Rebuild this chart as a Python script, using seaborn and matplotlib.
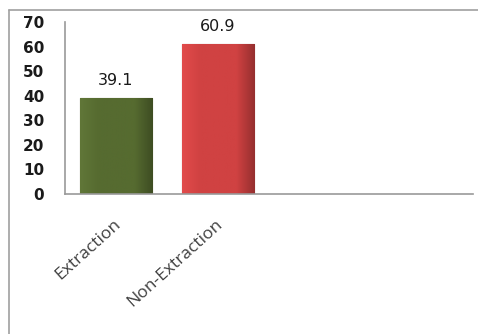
import numpy as np
import pandas as pd
import matplotlib
matplotlib.use("Agg")
import matplotlib.pyplot as plt
import seaborn as sns
from matplotlib.colors import LinearSegmentedColormap
from matplotlib.transforms import ScaledTranslation

categories = ["Extraction", "Non-Extraction"]
values = [39.1, 60.9]
bar_colors = ["#566B30", "#D04242"]
y_ticks = [0, 10, 20, 30, 40, 50, 60, 70]

sns.set_style("white")
plt.rcParams["font.family"] = ["DejaVu Sans"]

fig = plt.figure(figsize=(4.78, 3.34), dpi=100)
ax = fig.add_axes([65 / 478, 1 - 194 / 334, (473 - 65) / 478, (194 - 22) / 334])

df = pd.DataFrame({"group": categories, "pct": values})
sns.barplot(data=df, x="group", y="pct", hue="group", palette=bar_colors,
            width=0.71, legend=False, ax=ax, saturation=1)

# shaded fill on each bar: lighter left, darker right edge
for patch, col in zip(ax.patches, bar_colors):
    base = np.array(matplotlib.colors.to_rgb(col))
    light = np.clip(base * 1.06 + 0.02, 0, 1)
    dark = base * 0.72
    cmap = LinearSegmentedColormap.from_list("b", [light, base, base, base, dark])
    x0, y0 = patch.get_x(), patch.get_y()
    w, h = patch.get_width(), patch.get_height()
    grad = np.linspace(0, 1, 128).reshape(1, -1)
    im = ax.imshow(grad, extent=[x0, x0 + w, y0, y0 + h], aspect="auto",
                   cmap=cmap, zorder=patch.get_zorder() + 0.1)
    im.set_clip_path(patch)
    patch.set_edgecolor(dark * 0.9)
    patch.set_linewidth(0.8)

for i, v in enumerate(values):
    ax.text(i, v + 4.2, f"{v}", ha="center", va="bottom", fontsize=11.5,
            color="#1a1a1a")

ax.set_xlim(-0.5, 3.5)
ax.set_ylim(0, 70)
ax.set_yticks(y_ticks)
ax.set_yticklabels([str(t) for t in y_ticks], fontsize=11,
                   fontweight="bold", color="#1a1a1a")
ax.set_xticks(range(len(categories)))
ax.set_xticklabels(categories, rotation=42, ha="right", va="top",
                   rotation_mode="anchor", fontsize=12.5,
                   family="Open Sans", color="#404040")
ax.tick_params(axis="y", length=0, pad=15)
ax.tick_params(axis="x", length=0, pad=16)
for lab in ax.get_xticklabels():
    lab.set_transform(lab.get_transform() +
                      ScaledTranslation(-3 / 100, 0, fig.dpi_scale_trans))
ax.set_xlabel("")
ax.set_ylabel("")

for side in ["top", "right"]:
    ax.spines[side].set_visible(False)
for side in ["left", "bottom"]:
    ax.spines[side].set_color("#999999")
    ax.spines[side].set_linewidth(1.2)

# outer chart border
fig.add_artist(plt.Line2D([9 / 478, 9 / 478], [0, 1 - 10 / 334],
                          transform=fig.transFigure, color="#a0a0a0", lw=1.2))
fig.add_artist(plt.Line2D([9 / 478, 1], [1 - 10 / 334, 1 - 10 / 334],
                          transform=fig.transFigure, color="#a0a0a0", lw=1.2))

fig.savefig("out.png", dpi=100)
